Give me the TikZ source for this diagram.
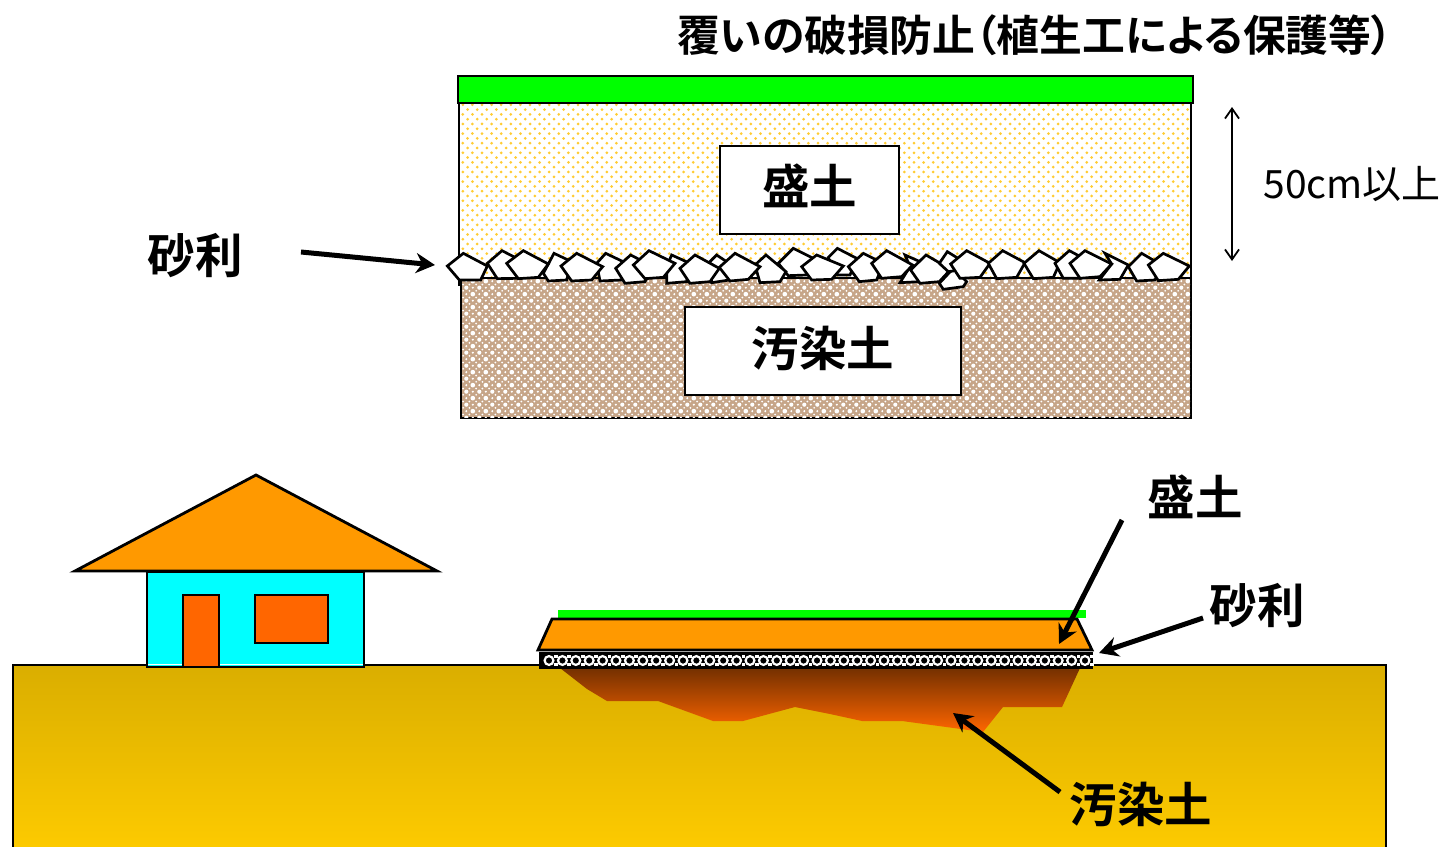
\documentclass[tikz,border=0pt]{standalone}
\usepackage{fontspec}
\setmainfont{Noto Sans CJK JP}[BoldFont={Noto Sans CJK JP Bold},RawFeature=+palt]
\usetikzlibrary{patterns,arrows.meta}
\pgfdeclarepatternformonly{sanddots}{\pgfpoint{-1pt}{-1pt}}{\pgfpoint{11pt}{11pt}}{\pgfpoint{9.6pt}{9.6pt}}{%
  \pgfpathcircle{\pgfpoint{2pt}{2pt}}{1.5pt}\pgfpathcircle{\pgfpoint{6.8pt}{6.8pt}}{1.5pt}\pgfusepath{fill}}
\pgfdeclarepatternformonly{soilmesh}{\pgfpoint{0pt}{0pt}}{\pgfpoint{12.8pt}{12.8pt}}{\pgfpoint{12.8pt}{12.8pt}}{%
  \pgfpathcircle{\pgfpoint{0pt}{0pt}}{2.1pt}\pgfpathcircle{\pgfpoint{12.8pt}{0pt}}{2.1pt}\pgfpathcircle{\pgfpoint{0pt}{12.8pt}}{2.1pt}\pgfpathcircle{\pgfpoint{12.8pt}{12.8pt}}{2.1pt}%
  \pgfpathcircle{\pgfpoint{6.4pt}{6.4pt}}{2.1pt}%
  \pgfpathcircle{\pgfpoint{6.4pt}{0pt}}{1pt}\pgfpathcircle{\pgfpoint{0pt}{6.4pt}}{1pt}\pgfpathcircle{\pgfpoint{12.8pt}{6.4pt}}{1pt}\pgfpathcircle{\pgfpoint{6.4pt}{12.8pt}}{1pt}%
  \pgfpathcircle{\pgfpoint{3.2pt}{3.2pt}}{1pt}\pgfpathcircle{\pgfpoint{9.6pt}{3.2pt}}{1pt}\pgfpathcircle{\pgfpoint{3.2pt}{9.6pt}}{1pt}\pgfpathcircle{\pgfpoint{9.6pt}{9.6pt}}{1pt}%
  \pgfusepath{fill}}
\definecolor{roofor}{HTML}{FF9900}
\definecolor{doorred}{HTML}{FF6600}
\definecolor{lime}{HTML}{00FF00}
\definecolor{aquab}{HTML}{00FFFF}
\definecolor{sandy}{HTML}{FFCC33}
\definecolor{soil}{HTML}{C6A588}
\definecolor{groundtop}{HTML}{DAAE00}
\definecolor{groundbot}{HTML}{FFCC00}
\definecolor{toxtop}{HTML}{743000}
\tikzset{
  outl/.style={draw=black,line width=2.8pt,line join=miter},
  stone/.style={draw=black,line width=2.7pt,fill=white,line join=miter},
  labelbox/.style={draw=black,line width=2.8pt,fill=white,inner sep=0pt,minimum height=88pt},
  bigjp/.style={font=\fontsize{47.5}{50}\selectfont\bfseries,inner sep=0pt},
  pointer/.style={draw=black,line width=5pt,-{Stealth[length=19pt,width=20pt]}},
  dimline/.style={draw=black,line width=1.8pt,{Straight Barb[length=10pt,width=14pt]}-{Straight Barb[length=10pt,width=14pt]}}
}
\newcommand{\stonez}[5]{\draw[stone] #1 -- #2 -- #3 -- #4 -- #5 -- cycle;}
\begin{document}
\begin{tikzpicture}[x=1pt,y=-1pt]
\useasboundingbox (0,0) rectangle (1447,846);
\clip (0,0) rectangle (1447,846);
% upper section
\fill[white] (0,0) rectangle (1447,846);
\path[fill=white,outl] (459,103) rectangle (1191,285);
\fill[pattern=sanddots,pattern color=sandy] (460,104) rectangle (1190,284);
\path[fill=white,outl] (461,278) rectangle (1191,418);
\fill[soil] (462,279) rectangle (1190,417);
\fill[pattern=soilmesh,pattern color=white] (462,279) rectangle (1190,417);
\path[fill=lime,outl] (458,76) rectangle (1193,103);
\node[labelbox,minimum width=179pt] (moribox) at (809.5,190) {};
\node[labelbox,minimum width=276pt] (soilbox) at (823,351) {};
\node[bigjp] (moritext) at (809.5,185.5) {盛土};
\node[bigjp] (soiltext) at (823,348) {汚染土};
% stones
\begin{scope}[shift={(440,230)},x=0.3333pt,y=-0.3333pt]
\stonez{(1015,100)}{(1060,55)}{(1130,90)}{(1100,135)}{(1045,137)}
\stonez{(945,105)}{(978,75)}{(1038,125)}{(1020,155)}{(960,158)}
\stonez{(810,95)}{(830,75)}{(860,95)}{(868,150)}{(815,158)}
\stonez{(680,110)}{(695,75)}{(750,100)}{(740,155)}{(680,160)}
\stonez{(470,100)}{(497,70)}{(560,100)}{(545,150)}{(480,153)}
\stonez{(310,130)}{(342,70)}{(395,95)}{(380,150)}{(325,153)}
\stonez{(142,100)}{(186,62)}{(240,90)}{(230,145)}{(172,146)}
\stonez{(22,108)}{(70,70)}{(142,108)}{(122,150)}{(58,150)}
\stonez{(200,100)}{(250,62)}{(325,102)}{(295,142)}{(235,146)}
\stonez{(363,108)}{(410,70)}{(488,110)}{(455,150)}{(395,153)}
\stonez{(527,115)}{(572,75)}{(640,110)}{(615,155)}{(555,160)}
\stonez{(580,105)}{(627,62)}{(705,100)}{(670,142)}{(615,146)}
\stonez{(720,115)}{(765,75)}{(838,115)}{(810,155)}{(750,160)}
\stonez{(838,112)}{(885,70)}{(960,110)}{(925,148)}{(870,153)}
\end{scope}
\begin{scope}[shift={(820,230)},x=0.3333pt,y=-0.3333pt]
\stonez{(25,82)}{(52,55)}{(110,85)}{(90,135)}{(45,135)}
\stonez{(-55,110)}{(-10,75)}{(70,108)}{(35,148)}{(-25,150)}
\stonez{(85,110)}{(130,70)}{(190,100)}{(170,150)}{(118,155)}
\stonez{(240,158)}{(270,110)}{(255,75)}{(300,95)}{(300,155)}
\stonez{(155,100)}{(200,62)}{(278,105)}{(245,140)}{(185,145)}
\stonez{(272,120)}{(318,75)}{(392,118)}{(358,155)}{(300,160)}
\stonez{(358,160)}{(400,115)}{(440,155)}{(430,170)}{(370,178)}
\stonez{(358,100)}{(382,65)}{(430,95)}{(420,120)}{(385,125)}
\stonez{(392,102)}{(440,62)}{(510,100)}{(480,142)}{(420,145)}
\stonez{(505,100)}{(548,62)}{(615,98)}{(590,142)}{(530,146)}
\stonez{(612,100)}{(657,62)}{(720,98)}{(700,142)}{(640,146)}
\stonez{(705,100)}{(748,62)}{(800,90)}{(780,145)}{(730,145)}
\stonez{(838,150)}{(875,102)}{(855,70)}{(925,105)}{(900,148)}
\stonez{(750,100)}{(795,62)}{(875,102)}{(840,140)}{(780,145)}
\stonez{(925,110)}{(965,70)}{(1025,105)}{(1005,150)}{(950,153)}
\stonez{(985,105)}{(1030,70)}{(1108,108)}{(1075,148)}{(1015,152)}
\end{scope}
% upper labels
\node[font=\fontsize{42.8}{46}\selectfont\bfseries,inner sep=0pt] (title) at (1035,35) {覆いの破損防止（植生工による保護等）};
\node[bigjp] (gravelu) at (195,256) {砂利};
\node[font=\fontsize{39}{42}\selectfont,inner sep=0pt] (dimt) at (1352,184) {50cm以上};
\coordinate (dimtop) at (1232,107);
\coordinate (dimbot) at (1232,261);
\draw[dimline] (dimtop) -- (dimbot);
\coordinate (gua) at (301,252);
\coordinate (gub) at (435,265);
\draw[pointer] (gua) -- (gub);
% ground
\path[top color=groundtop,bottom color=groundbot,draw=black,line width=2.4pt] (13,665) rectangle (1386,860);
% contaminated soil
\path[top color=toxtop,bottom color=doorred] (560,668) -- (587,689) -- (607,701) -- (658,701) -- (713,721) -- (743,721) -- (795,707) -- (830,714) -- (862,721) -- (902,721) -- (983,732) -- (1003,707) -- (1062,707) -- (1080,668) -- cycle;
% house
\path[fill=aquab,outl] (147,572) rectangle (364,667);
\draw[white,line width=1pt] (148,664) -- (363,664);
\path[fill=doorred,outl] (183,595) rectangle (219,667);
\path[fill=doorred,outl] (255,595) rectangle (328,643);
\path[fill=roofor,outl] (75,571) -- (256,475) -- (437,571) -- cycle;
% mound
\fill[lime] (558,610) rectangle (1086,618);
\path[fill=roofor,outl] (538,650) -- (552,619) -- (1077,619) -- (1092,650) -- cycle;
\path[fill=black,draw=black,line width=2.8pt] (540,653) rectangle (1092,668);
\foreach \i in {0,...,40}{
  \pgfmathsetmacro{\cx}{549+13.4*\i}
  \draw[white,line width=2.2pt] (\cx,660.5) circle[radius=4.4pt];
  \fill[white] (\cx+4.9,655) rectangle +(3.8,3.4);
  \fill[white] (\cx+4.9,662.5) rectangle +(3.8,3.8);
}
% lower labels
\node[bigjp] (morul) at (1195,497) {盛土};
\node[bigjp] (gravell) at (1257,606) {砂利};
\node[bigjp] (soill) at (1141,804) {汚染土};
\coordinate (ma) at (1122,520);
\coordinate (mb) at (1059,644);
\coordinate (ga) at (1203,618);
\coordinate (gb) at (1099,653);
\coordinate (sa) at (1060,792);
\coordinate (sb) at (953,713);
\draw[pointer] (ma) -- (mb);
\draw[pointer] (ga) -- (gb);
\draw[pointer] (sa) -- (sb);
\end{tikzpicture}
\end{document}
